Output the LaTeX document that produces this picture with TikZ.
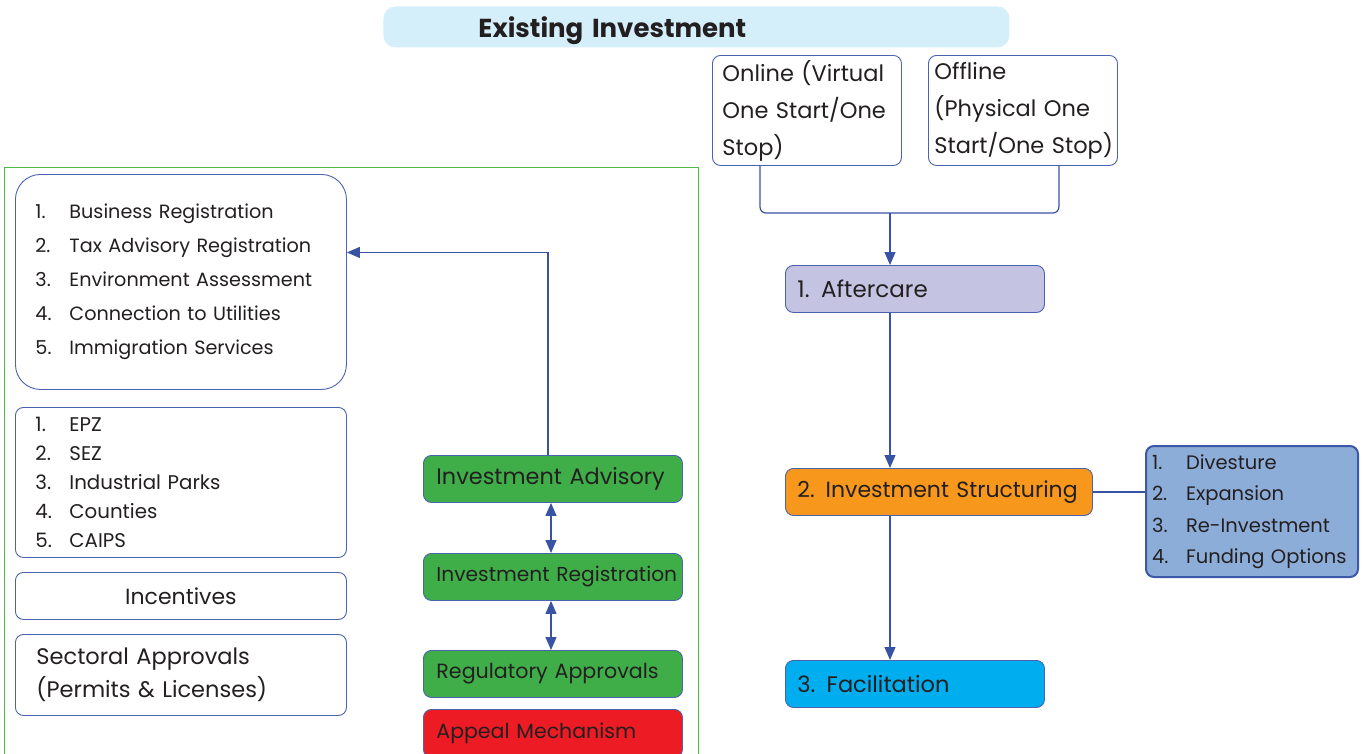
\documentclass[tikz,border=0pt]{standalone}
\usepackage{fontspec}
\setmainfont{Poppins}
\usetikzlibrary{arrows.meta}
\definecolor{titlec}{HTML}{D4EFFA}
\definecolor{bordc}{HTML}{4A63AF}
\definecolor{connc}{HTML}{3953A4}
\definecolor{lavc}{HTML}{C5C3E2}
\definecolor{orangec}{HTML}{F7981D}
\definecolor{cyanc}{HTML}{00AEEF}
\definecolor{listc}{HTML}{8DADD9}
\definecolor{listb}{HTML}{3B59A8}
\definecolor{greenc}{HTML}{3FAE49}
\definecolor{redc}{HTML}{ED1C24}
\definecolor{framec}{HTML}{4DB848}
\definecolor{txtc}{HTML}{231F20}
\newcommand\itm[1]{\makebox[34pt][l]{#1}}
\tikzset{
  box/.style={draw=bordc, line width=0.9pt, rounded corners=8pt, inner ysep=0pt,
    anchor=north west, align=left, text=txtc},
  conn/.style={draw=connc, line width=1.2pt},
  arr/.style={conn, -{Triangle[length=13pt,width=11pt]}},
  darr/.style={conn, {Triangle[length=13pt,width=11pt]}-{Triangle[length=13pt,width=11pt]}},
}
\begin{document}
\begin{tikzpicture}[x=1pt,y=-1pt]
\clip (0,0) rectangle (1362,753);
% title
\node[box, draw=none, fill=titlec, rounded corners=12pt, minimum height=41pt,
  text height=21pt, text depth=0pt,
  inner xsep=95pt, text width=436pt, font=\fontsize{26}{30}\selectfont\bfseries] (title) at (383,6) {\mbox{Existing Investment}};
% top right
\node[box, inner xsep=10pt, text width=169pt, minimum height=110pt, font=\fontsize{22.5}{37}\selectfont] (online) at (712,55) {\mbox{Online (Virtual}\\\mbox{One Start/One}\\Stop)};
\node[box, inner xsep=6pt, text width=177pt, minimum height=110pt, font=\fontsize{22.5}{37}\selectfont] (offline) at (928,55) {Offline\\\mbox{(Physical One}\\\mbox{Start/One Stop)}};
\node[box, fill=lavc, inner xsep=12pt, text width=235pt, minimum height=47pt, font=\fontsize{23}{30}\selectfont] (after) at (785,265) {\mbox{1. Aftercare}};
\node[box, fill=orangec, inner xsep=12pt, text width=283pt, minimum height=47pt, font=\fontsize{22}{30}\selectfont] (struct) at (785,468) {\mbox{2. Investment Structuring}};
\node[box, fill=cyanc, inner xsep=12pt, text width=235pt, minimum height=47pt, font=\fontsize{22.5}{30}\selectfont] (facil) at (785,660) {\mbox{3. Facilitation}};
\node[box, fill=listc, draw=listb, line width=2pt, inner xsep=6pt, text width=200pt, minimum height=131pt, font=\fontsize{19.5}{31.5}\selectfont] (divlist) at (1145,445)
  {\itm{1.}Divesture\\\itm{2.}Expansion\\\itm{3.}Re-Investment\\\itm{4.}\mbox{Funding Options}};
% connectors right
\coordinate (j) at (890,213);
\draw[conn, rounded corners=6pt] ([xshift=48pt]online.south west) |- (j) -| ([xshift=-59pt]offline.south east);
\draw[arr] (j) -- (j |- after.north);
\draw[arr] (after.south -| j) -- (struct.north -| j);
\draw[arr] (struct.south -| j) -- (facil.north -| j);
\draw[conn] (struct.east) -- (divlist.west |- struct.east);
% left frame
\draw[framec, line width=1pt] (4,167) rectangle (698,770);
\node[box, rounded corners=25pt, inner xsep=20pt, text width=291pt, minimum height=215pt, font=\fontsize{19.2}{34}\selectfont] (reglist) at (15,174)
  {\itm{1.}\mbox{Business Registration}\\\itm{2.}\mbox{Tax Advisory Registration}\\\itm{3.}\mbox{Environment Assessment}\\\itm{4.}\mbox{Connection to Utilities}\\\itm{5.}\mbox{Immigration Services}\\[22pt]};
\node[box, inner xsep=20pt, text width=291pt, minimum height=150pt, font=\fontsize{19.8}{29}\selectfont] (zones) at (15,407)
  {\itm{1.}EPZ\\\itm{2.}SEZ\\\itm{3.}Industrial Parks\\\itm{4.}Counties\\\itm{5.}CAIPS};
\node[box, align=center, inner xsep=10pt, text width=311pt, minimum height=47pt, font=\fontsize{22}{30}\selectfont] (incent) at (15,572) {Incentives};
\node[box, inner xsep=21pt, text width=289pt, minimum height=81pt, font=\fontsize{22.5}{33}\selectfont] (sector) at (15,634) {\mbox{Sectoral Approvals}\\\mbox{(Permits \& Licenses)}};
\node[box, fill=greenc, inner xsep=13pt, text width=233pt, minimum height=47pt, font=\fontsize{22.4}{30}\selectfont] (adv) at (423,455) {\mbox{Investment Advisory}};
\node[box, fill=greenc, inner xsep=13pt, text width=233pt, minimum height=47pt, font=\fontsize{20.2}{30}\selectfont] (reg) at (423,553) {\mbox{Investment Registration}};
\node[box, fill=greenc, inner xsep=13pt, text width=233pt, minimum height=47pt, font=\fontsize{20.6}{30}\selectfont] (regap) at (423,650) {\mbox{Regulatory Approvals}};
\node[box, fill=redc, inner xsep=13pt, text width=233pt, minimum height=48pt, font=\fontsize{20.5}{30}\selectfont] (appeal) at (423,709) {\mbox{Appeal Mechanism}};
% connectors left
\draw[arr] ([xshift=125pt]adv.north west) |- ([yshift=29.5pt]reglist.east);
\draw[darr] ([xshift=128pt]adv.south west) -- ([xshift=128pt]reg.north west);
\draw[darr] ([xshift=128pt]reg.south west) -- ([xshift=128pt]regap.north west);
\end{tikzpicture}
\end{document}
